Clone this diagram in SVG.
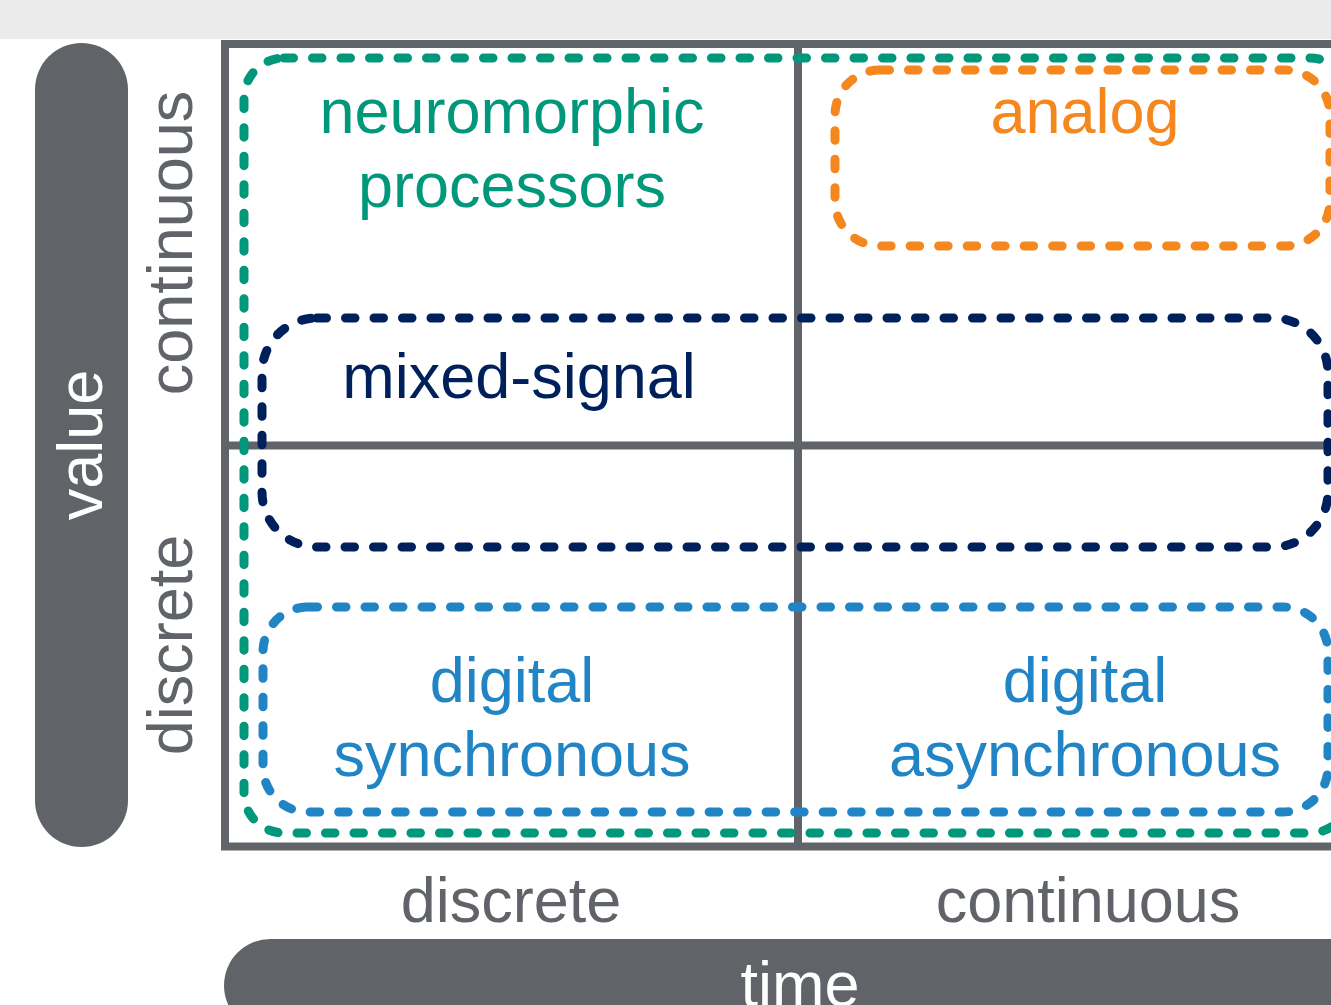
<svg xmlns="http://www.w3.org/2000/svg" width="1331" height="1005" viewBox="0 0 1331 1005">
<style>
text{font-family:"Liberation Sans",Arial,sans-serif;font-size:63px;text-anchor:middle}
.grid{stroke:#606468;stroke-width:8;fill:none}
.dash{fill:none;stroke-width:9;stroke-linecap:round;stroke-dasharray:9.5 19}
.ax{fill:#606468}
.axl{fill:#606468}
.white{fill:#ffffff}
</style>
<rect x="0" y="0" width="1331" height="1005" fill="#ffffff"/>
<rect x="0" y="0" width="1331" height="39" fill="#ebebeb"/>
<g id="value-axis">
<rect class="ax" x="35" y="43" width="93" height="804" rx="46.5"/>
<text class="white" transform="translate(102,445) rotate(-90)">value</text>
<text class="axl" transform="translate(192,243) rotate(-90)">continuous</text>
<text class="axl" transform="translate(192,645) rotate(-90)">discrete</text>
</g>
<g id="time-axis">
<rect class="ax" x="224" y="939" width="1200" height="93" rx="46.5"/>
<text class="white" x="800" y="1006">time</text>
<text class="axl" x="511" y="922">discrete</text>
<text class="axl" x="1088" y="922">continuous</text>
</g>
<g id="grid">
<rect class="grid" x="225" y="44" width="1150" height="802.5"/>
<line class="grid" x1="798" y1="44" x2="798" y2="846"/>
<line class="grid" x1="225" y1="445.5" x2="1340" y2="445.5"/>
</g>
<g id="connectors"></g>
<g id="neuromorphic">
<rect class="dash" stroke="#00977a" x="244" y="58" width="1106" height="775" rx="40"/>
<text fill="#00977a" x="512" y="133">neuromorphic</text>
<text fill="#00977a" x="512" y="207">processors</text>
</g>
<g id="analog">
<rect class="dash" stroke="#f5871f" x="835" y="70" width="495" height="176" rx="45"/>
<text fill="#f5871f" x="1085" y="133">analog</text>
</g>
<g id="mixed-signal">
<rect class="dash" stroke="#00205b" x="262" y="318" width="1066" height="229" rx="55"/>
<text fill="#00205b" x="519" y="398">mixed-signal</text>
</g>
<g id="digital">
<rect class="dash" stroke="#2185c5" x="263" y="607" width="1065" height="205" rx="45"/>
<text fill="#2185c5" x="512" y="702">digital</text>
<text fill="#2185c5" x="512" y="776">synchronous</text>
<text fill="#2185c5" x="1085" y="702">digital</text>
<text fill="#2185c5" x="1085" y="776">asynchronous</text>
</g>
</svg>
